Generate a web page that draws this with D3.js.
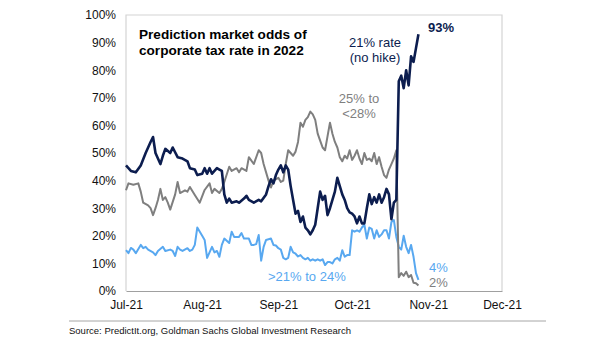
<!DOCTYPE html>
<html>
<head>
<meta charset="utf-8">
<script src="https://cdn.jsdelivr.net/npm/d3@7"></script>
<style>
  body { margin: 0; background: #fff; }
  svg { display: block; font-family: "Liberation Sans", Arial, sans-serif; }
</style>
</head>
<body>
<div id="chart"></div>
<script>
// Prediction market odds of the 2022 corporate tax rate

// Daily odds (%) per outcome
const noHike = [
  ["2021-07-01", 45.5], ["2021-07-03", 43.5], ["2021-07-05", 43], ["2021-07-07", 45.5],
  ["2021-07-09", 50], ["2021-07-11", 54], ["2021-07-12", 55.8], ["2021-07-13", 50],
  ["2021-07-15", 46], ["2021-07-16", 49], ["2021-07-17", 51.5], ["2021-07-19", 50],
  ["2021-07-20", 52], ["2021-07-22", 48.5], ["2021-07-24", 48], ["2021-07-26", 47],
  ["2021-07-27", 44.5], ["2021-07-29", 44], ["2021-07-30", 42], ["2021-08-01", 42.5],
  ["2021-08-02", 44.5], ["2021-08-03", 42.5], ["2021-08-04", 44.5], ["2021-08-05", 42.5],
  ["2021-08-07", 44.5], ["2021-08-08", 44], ["2021-08-09", 43.5], ["2021-08-10", 35],
  ["2021-08-11", 32], ["2021-08-12", 33.5], ["2021-08-13", 32], ["2021-08-15", 32.5],
  ["2021-08-16", 32], ["2021-08-18", 33.5], ["2021-08-19", 34.5], ["2021-08-20", 33],
  ["2021-08-22", 32], ["2021-08-24", 33], ["2021-08-25", 32.5], ["2021-08-27", 35],
  ["2021-08-28", 38], ["2021-08-29", 40.5], ["2021-08-30", 39], ["2021-08-31", 42],
  ["2021-09-01", 44], ["2021-09-02", 45.5], ["2021-09-03", 43], ["2021-09-04", 45.5],
  ["2021-09-05", 44], ["2021-09-06", 38], ["2021-09-07", 33], ["2021-09-08", 28],
  ["2021-09-09", 29], ["2021-09-10", 25], ["2021-09-11", 27], ["2021-09-12", 23],
  ["2021-09-13", 22], ["2021-09-14", 20.5], ["2021-09-15", 22], ["2021-09-16", 24],
  ["2021-09-17", 30], ["2021-09-18", 36], ["2021-09-19", 33], ["2021-09-20", 34.5],
  ["2021-09-21", 27.5], ["2021-09-22", 30], ["2021-09-23", 33], ["2021-09-24", 36],
  ["2021-09-25", 41], ["2021-09-26", 38], ["2021-09-27", 35], ["2021-09-28", 33],
  ["2021-09-29", 30], ["2021-09-30", 28.5], ["2021-10-01", 28], ["2021-10-02", 27],
  ["2021-10-03", 24.5], ["2021-10-04", 27], ["2021-10-05", 24.5], ["2021-10-06", 24.5],
  ["2021-10-07", 30], ["2021-10-08", 35], ["2021-10-09", 31.5], ["2021-10-10", 34],
  ["2021-10-11", 32], ["2021-10-12", 35], ["2021-10-13", 32], ["2021-10-14", 34],
  ["2021-10-15", 37], ["2021-10-16", 35], ["2021-10-17", 26], ["2021-10-18", 32],
  ["2021-10-19", 33], ["2021-10-20", 76], ["2021-10-21", 78], ["2021-10-22", 73.5],
  ["2021-10-23", 80], ["2021-10-24", 74.5], ["2021-10-25", 85], ["2021-10-26", 83],
  ["2021-10-27", 88], ["2021-10-28", 93]
];

const rate25to28 = [
  ["2021-07-01", 36.5], ["2021-07-02", 39], ["2021-07-04", 38.5], ["2021-07-06", 39],
  ["2021-07-07", 36], ["2021-07-08", 32], ["2021-07-10", 31], ["2021-07-11", 30],
  ["2021-07-12", 27.5], ["2021-07-13", 30], ["2021-07-14", 33], ["2021-07-15", 37],
  ["2021-07-16", 33], ["2021-07-17", 34], ["2021-07-18", 32], ["2021-07-19", 29.5],
  ["2021-07-21", 35], ["2021-07-22", 39.5], ["2021-07-23", 35.5], ["2021-07-25", 36.5],
  ["2021-07-26", 36], ["2021-07-27", 37.7], ["2021-07-29", 34.8], ["2021-07-31", 32],
  ["2021-08-02", 36.6], ["2021-08-04", 39], ["2021-08-05", 35.5], ["2021-08-06", 37],
  ["2021-08-08", 35.5], ["2021-08-09", 37], ["2021-08-10", 39.5], ["2021-08-12", 45],
  ["2021-08-13", 43.5], ["2021-08-15", 44.5], ["2021-08-16", 43], ["2021-08-17", 44.5],
  ["2021-08-19", 43.5], ["2021-08-20", 48.5], ["2021-08-22", 46], ["2021-08-24", 51],
  ["2021-08-25", 50], ["2021-08-26", 46], ["2021-08-28", 40], ["2021-08-29", 37.5],
  ["2021-08-30", 40], ["2021-09-01", 41], ["2021-09-02", 39.5], ["2021-09-03", 40],
  ["2021-09-04", 46], ["2021-09-05", 51], ["2021-09-07", 49], ["2021-09-08", 50.5],
  ["2021-09-09", 54], ["2021-09-10", 61], ["2021-09-11", 59.5], ["2021-09-12", 62],
  ["2021-09-13", 63], ["2021-09-14", 65], ["2021-09-15", 64], ["2021-09-16", 62],
  ["2021-09-17", 57], ["2021-09-18", 54.5], ["2021-09-19", 52], ["2021-09-20", 51],
  ["2021-09-21", 56], ["2021-09-22", 61], ["2021-09-23", 57], ["2021-09-24", 54],
  ["2021-09-25", 52], ["2021-09-26", 48.5], ["2021-09-27", 47], ["2021-09-28", 49],
  ["2021-09-29", 48], ["2021-09-30", 51], ["2021-10-01", 47.5], ["2021-10-02", 49],
  ["2021-10-03", 51], ["2021-10-04", 48], ["2021-10-05", 46], ["2021-10-06", 50],
  ["2021-10-07", 47.5], ["2021-10-08", 48], ["2021-10-09", 47], ["2021-10-10", 50],
  ["2021-10-11", 46], ["2021-10-12", 48.5], ["2021-10-13", 45], ["2021-10-14", 42],
  ["2021-10-15", 41], ["2021-10-16", 44], ["2021-10-17", 46], ["2021-10-18", 48],
  ["2021-10-19", 51], ["2021-10-20", 5], ["2021-10-21", 6.5], ["2021-10-22", 5.5],
  ["2021-10-23", 7], ["2021-10-24", 5], ["2021-10-25", 5.8], ["2021-10-26", 3],
  ["2021-10-27", 2.8], ["2021-10-28", 2]
];

const rate21to24 = [
  ["2021-07-01", 14.8], ["2021-07-02", 13.7], ["2021-07-03", 15.6], ["2021-07-04", 15],
  ["2021-07-05", 13.7], ["2021-07-07", 16.7], ["2021-07-08", 15.5], ["2021-07-09", 16],
  ["2021-07-10", 15], ["2021-07-12", 14], ["2021-07-13", 13], ["2021-07-14", 14.5],
  ["2021-07-16", 16], ["2021-07-17", 14.5], ["2021-07-19", 15], ["2021-07-20", 14.5],
  ["2021-07-21", 12.7], ["2021-07-22", 16], ["2021-07-23", 15], ["2021-07-24", 14.5],
  ["2021-07-26", 15.5], ["2021-07-27", 14.5], ["2021-07-28", 15], ["2021-07-29", 16.7],
  ["2021-07-30", 23], ["2021-08-01", 20], ["2021-08-02", 18.5], ["2021-08-03", 12],
  ["2021-08-04", 14], ["2021-08-05", 16], ["2021-08-06", 14], ["2021-08-07", 14.5],
  ["2021-08-08", 12.4], ["2021-08-09", 16.7], ["2021-08-10", 19], ["2021-08-12", 17.4],
  ["2021-08-13", 21.5], ["2021-08-14", 19.6], ["2021-08-16", 19.6], ["2021-08-17", 21],
  ["2021-08-18", 19], ["2021-08-20", 19], ["2021-08-21", 16.7], ["2021-08-22", 16.7],
  ["2021-08-23", 17], ["2021-08-24", 20.3], ["2021-08-25", 11], ["2021-08-26", 16],
  ["2021-08-27", 18.5], ["2021-08-29", 19], ["2021-08-30", 16.7], ["2021-08-31", 16.5],
  ["2021-09-01", 15.5], ["2021-09-02", 15], ["2021-09-03", 12], ["2021-09-04", 11.5],
  ["2021-09-05", 12], ["2021-09-06", 16], ["2021-09-07", 14], ["2021-09-08", 13.5],
  ["2021-09-09", 12.5], ["2021-09-10", 13], ["2021-09-11", 12], ["2021-09-12", 11.5],
  ["2021-09-13", 12], ["2021-09-14", 11], ["2021-09-15", 11.5], ["2021-09-16", 11],
  ["2021-09-17", 11.5], ["2021-09-18", 11], ["2021-09-19", 11.5], ["2021-09-20", 9.4],
  ["2021-09-21", 10.5], ["2021-09-22", 10.5], ["2021-09-23", 10], ["2021-09-24", 11.5],
  ["2021-09-25", 12], ["2021-09-26", 11], ["2021-09-27", 14.8], ["2021-09-28", 12.4],
  ["2021-09-29", 13], ["2021-09-30", 13], ["2021-10-01", 22], ["2021-10-02", 21.5],
  ["2021-10-03", 22], ["2021-10-04", 21.5], ["2021-10-05", 23], ["2021-10-06", 24],
  ["2021-10-07", 19], ["2021-10-08", 23], ["2021-10-09", 22.5], ["2021-10-10", 19],
  ["2021-10-11", 22], ["2021-10-12", 19.6], ["2021-10-13", 20.5], ["2021-10-14", 22],
  ["2021-10-15", 22], ["2021-10-16", 19], ["2021-10-17", 25], ["2021-10-18", 25.7],
  ["2021-10-19", 19.6], ["2021-10-20", 16], ["2021-10-21", 15], ["2021-10-22", 20],
  ["2021-10-23", 16], ["2021-10-24", 13.7], ["2021-10-25", 16.7], ["2021-10-26", 12.4],
  ["2021-10-27", 6.5], ["2021-10-28", 4]
];

const monthTicks = ["2021-07-01", "2021-08-01", "2021-09-01", "2021-10-01", "2021-11-01", "2021-12-01"];
const yTicks = [0, 10, 20, 30, 40, 50, 60, 70, 80, 90, 100];

const parse = d3.timeParse("%Y-%m-%d");
const fmtMonth = d3.timeFormat("%b-%y");

const width = 605;
const height = 341;
const margin = {top: 15, right: 103, bottom: 50, left: 126};

const svg = d3.select("#chart")
  .append("svg")
  .attr("width", width)
  .attr("height", height);

const x = d3.scaleTime()
  .domain([parse(monthTicks[0]), parse(monthTicks[monthTicks.length - 1])])
  .range([margin.left, width - margin.right]);

const y = d3.scaleLinear()
  .domain([0, 100])
  .range([height - margin.bottom, margin.top]);

// Plot frame (light box, darker base line)
svg.append("path")
  .attr("d", `M${x.range()[0]},${y(0)}V${y(100)}H${x.range()[1]}V${y(0)}`)
  .attr("fill", "none")
  .attr("stroke", "#d4d4d4")
  .attr("stroke-width", 1.2);

// Y axis labels
svg.append("g")
  .attr("transform", `translate(${margin.left},0)`)
  .call(d3.axisLeft(y).tickValues(yTicks).tickSize(0).tickPadding(10).tickFormat(d => d + "%"))
  .call(g => g.select(".domain").remove())
  .call(g => g.selectAll("text")
    .attr("font-family", "Liberation Sans, Arial, sans-serif")
    .attr("font-size", 12)
    .attr("fill", "#111"));

// X axis
svg.append("g")
  .attr("transform", `translate(0,${y(0)})`)
  .call(d3.axisBottom(x).tickValues(monthTicks.map(parse)).tickSize(0).tickPadding(9).tickFormat(fmtMonth))
  .call(g => g.select(".domain").attr("stroke", "#a0a0a0").attr("stroke-width", 1.2))
  .call(g => g.selectAll("text")
    .attr("font-family", "Liberation Sans, Arial, sans-serif")
    .attr("font-size", 12)
    .attr("fill", "#111"));

const line = d3.line()
  .x(d => x(parse(d[0])))
  .y(d => y(d[1]));

const series = [
  {data: rate21to24, color: "#58a8f0", w: 2},
  {data: rate25to28, color: "#7f7f7f", w: 2},
  {data: noHike, color: "#0c1d4f", w: 2.6}
];

svg.selectAll("path.series")
  .data(series)
  .join("path")
    .attr("class", "series")
    .attr("fill", "none")
    .attr("stroke", d => d.color)
    .attr("stroke-width", d => d.w)
    .attr("stroke-linejoin", "round")
    .attr("d", d => line(d.data));

// Chart title inside the plot
svg.append("text")
  .attr("x", 139)
  .attr("y", 39)
  .attr("font-size", 13.6)
  .attr("font-weight", "bold")
  .attr("fill", "#000")
  .selectAll("tspan")
  .data(["Prediction market odds of", "corporate tax rate in 2022"])
  .join("tspan")
    .attr("x", 139)
    .attr("dy", (d, i) => i ? 16 : 0)
    .text(d => d);

// Series labels
const labels = [
  {lines: ["21% rate", "(no hike)"], x: 375, y: 47, color: "#0c1d4f", anchor: "middle"},
  {lines: ["25% to", "<28%"], x: 359, y: 103, color: "#7f7f7f", anchor: "middle"},
  {lines: [">21% to 24%"], x: 268, y: 281, color: "#58a8f0", anchor: "start"}
];

labels.forEach(l => {
  svg.append("text")
    .attr("text-anchor", l.anchor)
    .attr("font-size", 13)
    .attr("fill", l.color)
    .selectAll("tspan")
    .data(l.lines)
    .join("tspan")
      .attr("x", l.x)
      .attr("y", (d, i) => l.y + i * 15)
      .text(d => d);
});

// End values
const last = s => s[s.length - 1];
svg.append("text")
  .attr("x", 428).attr("y", 32)
  .attr("font-size", 13).attr("font-weight", "bold")
  .attr("fill", "#0c1d4f")
  .text(last(noHike)[1] + "%");
svg.append("text")
  .attr("x", 429).attr("y", 272)
  .attr("font-size", 13)
  .attr("fill", "#58a8f0")
  .text(last(rate21to24)[1] + "%");
svg.append("text")
  .attr("x", 429).attr("y", 287)
  .attr("font-size", 13)
  .attr("fill", "#7f7f7f")
  .text(last(rate25to28)[1] + "%");

// Footer
svg.append("line")
  .attr("x1", 69).attr("x2", 546)
  .attr("y1", 321).attr("y2", 321)
  .attr("stroke", "#a6a6a6")
  .attr("stroke-width", 1);

svg.append("text")
  .attr("x", 69).attr("y", 334)
  .attr("font-size", 9.5)
  .attr("fill", "#111")
  .text("Source: PredictIt.org, Goldman Sachs Global Investment Research");
</script>
</body>
</html>
